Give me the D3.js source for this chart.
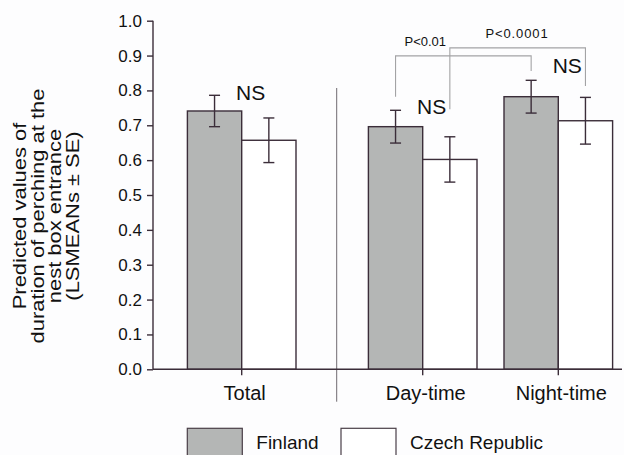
<!DOCTYPE html>
<html>
<head>
<meta charset="utf-8">
<script src="https://cdn.jsdelivr.net/npm/d3@7"></script>
<style>
  html, body { margin: 0; padding: 0; background: #fdfdfe; }
  svg { display: block; font-family: "Liberation Sans", Arial, sans-serif; }
</style>
</head>
<body>
<svg id="chart" width="624" height="455"></svg>
<script>
// Perching duration at the nest box entrance, Finland vs Czech Republic
const categories = ["Total", "Day-time", "Night-time"];
const series = ["Finland", "Czech Republic"];
const finlandMeans = [0.741, 0.696, 0.782];
const finlandSE = [0.045, 0.047, 0.047];
const czechMeans = [0.657, 0.602, 0.713];
const czechSE = [0.064, 0.065, 0.067];
const yTickValues = [0, 0.1, 0.2, 0.3, 0.4, 0.5, 0.6, 0.7, 0.8, 0.9, 1.0];
const yTitleLines = ["Predicted values of", "duration of perching at the", "nest box entrance", "(LSMEANs \u00b1 SE)"];
// "NS" marks: per category, height in axis units
const nsLabels = ["NS", "NS", "NS"];
const nsLevels = [0.772, 0.732, 0.851];
// Significance brackets between periods (levels in axis units)
const comparisons = [
  { label: "P<0.01",   from: ["Day-time", "Finland"],        to: ["Night-time", "Finland"],        level: 0.899, fromEnd: 0.782, toEnd: 0.856, labelLevel: 0.927 },
  { label: "P<0.0001", from: ["Day-time", "Czech Republic"], to: ["Night-time", "Czech Republic"], level: 0.922, fromEnd: 0.746, toEnd: 0.813, labelLevel: 0.949 }
];

const ink = "#3b2d39";
const fills = { "Finland": "#b4b6b5", "Czech Republic": "#ffffff" };

const svg = d3.select("#chart");

const plotLeft = 153, plotRight = 622, plotTop = 20.7, plotBottom = 369.3;
const dividerX = 336.7;

const y = d3.scaleLinear().domain([0, 1]).range([plotBottom, plotTop]);

// Group centres: "Total" sits alone left of the divider, the two periods to its right
const groupX = d3.scaleOrdinal().domain(categories).range([241.7, 422.7, 558.3]);
const barW = 54.3;
const sub = d3.scaleBand().domain(series).range([-barW, barW]);

const rows = [];
categories.forEach((c, i) => {
  rows.push({ cat: c, s: "Finland", v: finlandMeans[i], se: finlandSE[i] });
  rows.push({ cat: c, s: "Czech Republic", v: czechMeans[i], se: czechSE[i] });
});
const barCx = (c, s) => groupX(c) + sub(s) + sub.bandwidth() / 2;

// Divider between overall and per-period results
svg.append("line")
  .attr("x1", dividerX).attr("x2", dividerX)
  .attr("y1", 88).attr("y2", 401.7)
  .attr("stroke", "#6f6a70").attr("stroke-width", 1);

// Bars
svg.append("g").selectAll("rect").data(rows).join("rect")
  .attr("x", d => groupX(d.cat) + sub(d.s))
  .attr("y", d => y(d.v))
  .attr("width", sub.bandwidth())
  .attr("height", d => y(0) - y(d.v))
  .attr("fill", d => fills[d.s])
  .attr("stroke", ink).attr("stroke-width", 1.4);

// Error bars (mean ± SE)
const eb = svg.append("g").attr("stroke", ink).attr("stroke-width", 1.4);
rows.forEach(d => {
  const cx = barCx(d.cat, d.s);
  eb.append("line").attr("x1", cx).attr("x2", cx).attr("y1", y(d.v + d.se)).attr("y2", y(d.v - d.se));
  eb.append("line").attr("x1", cx - 5.5).attr("x2", cx + 5.5).attr("y1", y(d.v + d.se)).attr("y2", y(d.v + d.se));
  eb.append("line").attr("x1", cx - 5.5).attr("x2", cx + 5.5).attr("y1", y(d.v - d.se)).attr("y2", y(d.v - d.se));
});

// Y axis
const yAxis = svg.append("g")
  .attr("transform", `translate(${plotLeft},0)`)
  .call(d3.axisLeft(y).tickValues(yTickValues).tickFormat(d3.format(".1f")).tickSize(6).tickPadding(5));
yAxis.select(".domain").attr("stroke", ink).attr("stroke-width", 1.4).attr("d", `M0,${plotTop}V${plotBottom}`);
yAxis.selectAll(".tick line").attr("stroke", ink).attr("stroke-width", 1.4);
yAxis.selectAll(".tick text").attr("fill", "#111").attr("font-size", 17).attr("font-family", "Liberation Sans, Arial, sans-serif");

// X axis: baseline with ticks between each pair of bars
const xAxis = svg.append("g").attr("transform", `translate(0,${plotBottom})`);
xAxis.append("line").attr("x1", plotLeft).attr("x2", plotRight).attr("stroke", ink).attr("stroke-width", 1.4);
xAxis.selectAll(".xt").data(categories).join("line")
  .attr("x1", d => groupX(d)).attr("x2", d => groupX(d))
  .attr("y1", 0).attr("y2", 6)
  .attr("stroke", ink).attr("stroke-width", 1.4);
xAxis.selectAll("text").data(categories).join("text")
  .attr("x", d => groupX(d) + 3).attr("y", 31)
  .attr("text-anchor", "middle")
  .attr("font-size", 20).attr("fill", "#111")
  .text(d => d);

// Y title, set in a slightly elongated face
svg.append("g").attr("transform", "translate(0,216)")
  .selectAll("text").data(yTitleLines).join("text")
  .attr("transform", (d, i) => `translate(${26 + i * 17.5},0) rotate(-90) scale(1.22,1)`)
  .attr("text-anchor", "middle")
  .attr("font-size", 18).attr("fill", "#111")
  .text(d => d);

// NS labels
svg.selectAll(".ns").data(categories).join("text")
  .attr("x", d => groupX(d) + 9)
  .attr("y", (d, i) => y(nsLevels[i]))
  .attr("text-anchor", "middle")
  .attr("font-size", 21).attr("fill", "#111")
  .text((d, i) => nsLabels[i]);

// Significance brackets
comparisons.forEach(c => {
  const x1 = barCx(c.from[0], c.from[1]);
  const x2 = barCx(c.to[0], c.to[1]);
  svg.append("path")
    .attr("d", `M${x1},${y(c.fromEnd)}V${y(c.level)}H${x2}V${y(c.toEnd)}`)
    .attr("fill", "none").attr("stroke", "#a3a3a5").attr("stroke-width", 1.1);
});
svg.selectAll(".pl").data(comparisons).join("text")
  .attr("x", (c, i) => i === 0 ? 425.3 : 517)
  .attr("y", c => y(c.labelLevel))
  .attr("text-anchor", "middle")
  .attr("letter-spacing", (c, i) => i === 0 ? 0 : 0.9)
  .attr("font-size", 13).attr("fill", "#111")
  .text(c => c.label);

// Legend
const legendX = [187.3, 341];
const lg = svg.append("g");
series.forEach((s, i) => {
  lg.append("rect").attr("x", legendX[i]).attr("y", 428.3).attr("width", 55).attr("height", 40)
    .attr("fill", fills[s]).attr("stroke", "#4a3f48").attr("stroke-width", 1.2);
  lg.append("text").attr("x", legendX[i] + 69).attr("y", 448.5)
    .attr("font-size", 19).attr("fill", "#111").text(s);
});
</script>
</body>
</html>
